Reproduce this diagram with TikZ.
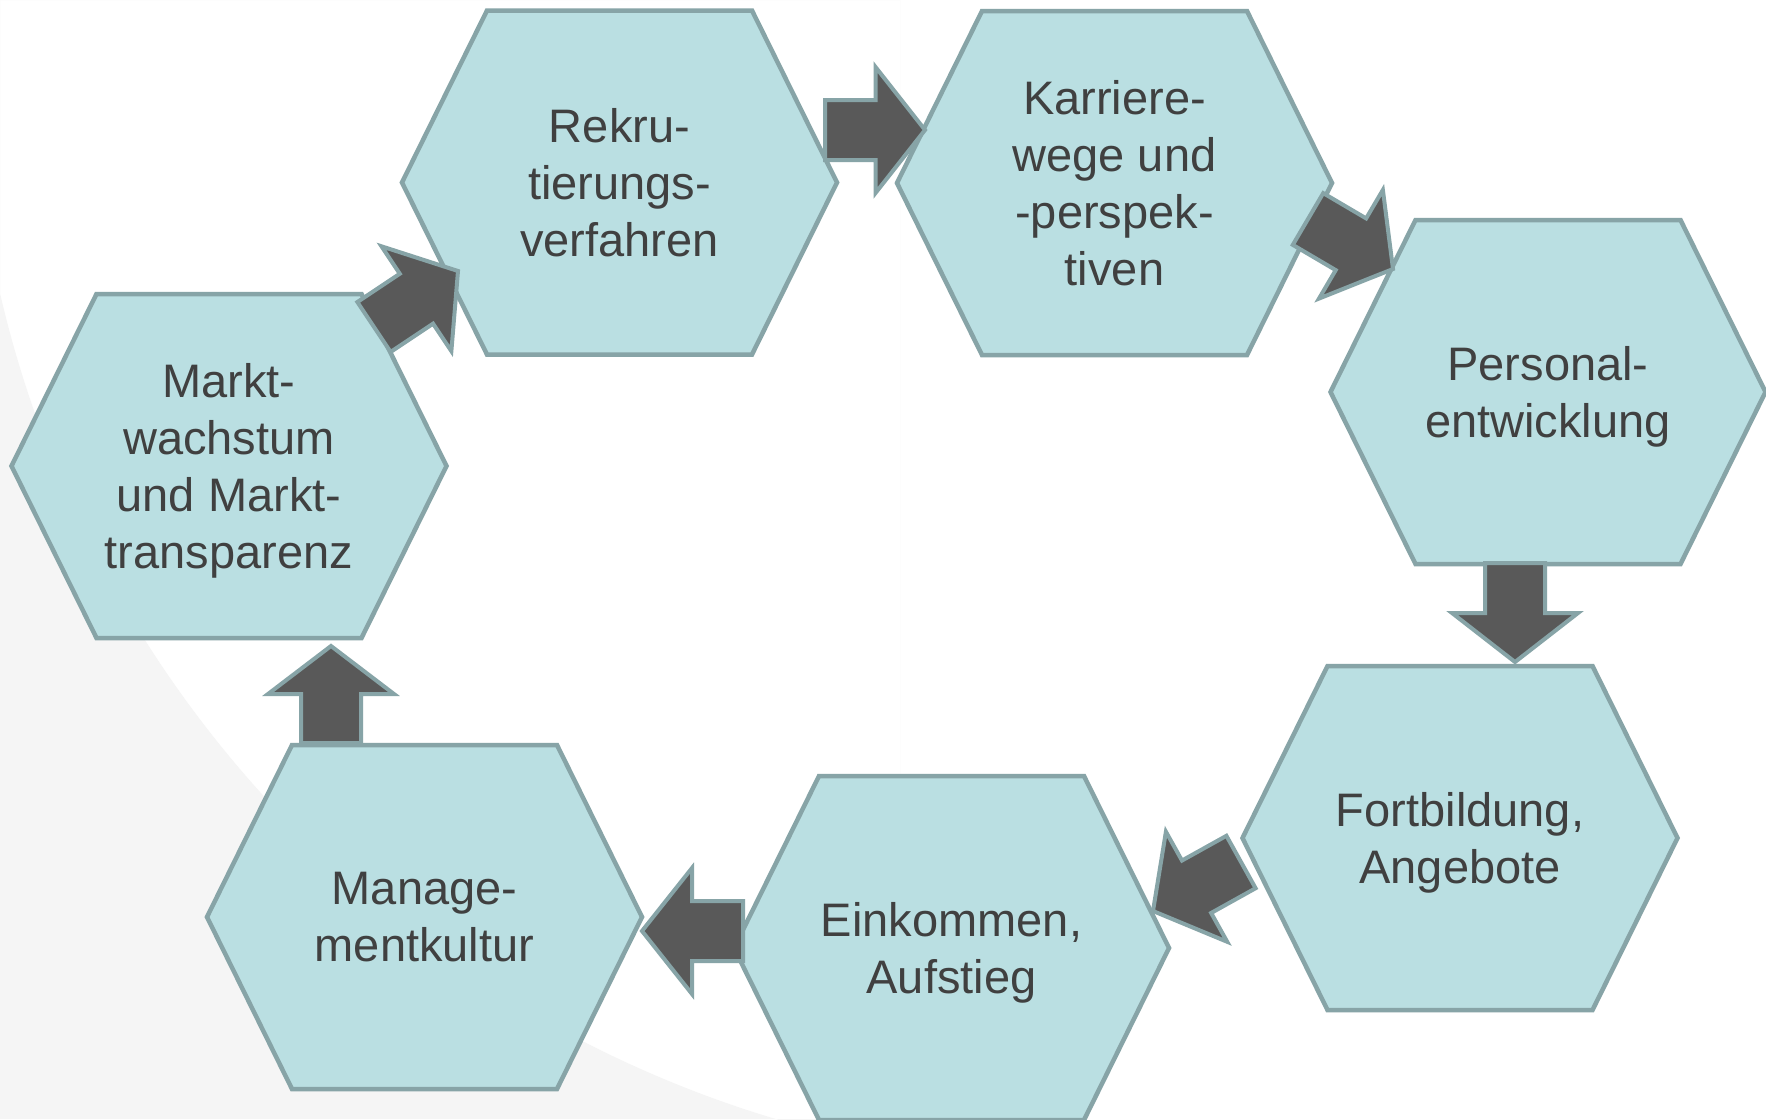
\documentclass[tikz,border=0pt]{standalone}
\usepackage{fontspec}
\setmainfont{Liberation Sans}
\usetikzlibrary{calc}
\definecolor{hexfill}{RGB}{186,223,226}
\definecolor{hexline}{RGB}{135,164,167}
\definecolor{arrowfill}{RGB}{89,89,89}
\definecolor{txt}{RGB}{64,64,64}
\definecolor{bggray}{RGB}{245,245,245}
\tikzset{
  hexframe/.style={rectangle, minimum width=435pt, minimum height=344pt, inner sep=0pt, outer sep=0pt},
  hexshape/.style={fill=hexfill, draw=hexline, line width=4.5pt, line join=miter},
  hextext/.style={align=center, text=txt, font=\fontsize{47}{57}\selectfont, inner sep=0pt, text depth=0pt},
  blockarr/.style={fill=arrowfill, draw=hexline, line width=4pt, line join=miter},
}
\newcommand\hexagonnode[4]{%
  \node[hexframe] (#1) at (#2,#3) {};
  \draw[hexshape] (#1.west) -- ([xshift=85pt]#1.north west) -- ([xshift=-85pt]#1.north east)
    -- (#1.east) -- ([xshift=-85pt]#1.south east) -- ([xshift=85pt]#1.south west) -- cycle;
  \node[hextext] (#1t) at (#1.center) {#4};
}
\newcommand\blockarrow[2]{%
  \coordinate (ab) at ($(#1)!0.505!(#2)$);
  \draw[blockarr] ($(#1)!30pt!90:(#2)$) -- ($(ab)!30pt!90:(#2)$) -- ($(ab)!63pt!90:(#2)$)
    -- (#2) -- ($(ab)!63pt!-90:(#2)$) -- ($(ab)!30pt!-90:(#2)$) -- ($(#1)!30pt!-90:(#2)$) -- cycle;
}
\begin{document}
\begin{tikzpicture}[x=1pt,y=-1pt]
  \fill[white] (0,0) rectangle (1766,1119);
  \useasboundingbox (0,0) rectangle (1766,1119);
  \begin{scope}
    \clip (0,0) rectangle (900,1119);
    \fill[bggray, even odd rule] (0,0) rectangle (900,1119) (1099,38) circle (1128pt);
  \end{scope}

  \hexagonnode{M}{229}{466}{Markt-\\wachstum\\und Markt-\\transparenz}
  \hexagonnode{A}{619.5}{182.5}{Rekru-\\tierungs-\\verfahren}
  \hexagonnode{K}{1114.5}{183}{Karriere-\\wege und\\-perspek-\\tiven}
  \hexagonnode{P}{1548}{392}{Personal-\\entwicklung}
  \hexagonnode{F}{1460}{838}{Fortbildung,\\Angebote}
  \hexagonnode{E}{951.5}{948}{Einkommen,\\Aufstieg}
  \hexagonnode{G}{424.5}{917}{Manage-\\mentkultur}

  \coordinate (a1t) at (374,327);  \coordinate (a1h) at (458,271);
  \coordinate (a2t) at (825,130);  \coordinate (a2h) at (925,130);
  \coordinate (a3t) at (1308,219); \coordinate (a3h) at (1393,269);
  \coordinate (a4t) at (1515,563); \coordinate (a4h) at (1515,662);
  \coordinate (a5t) at (1241,862); \coordinate (a5h) at (1153,911);
  \coordinate (a6t) at (743,931);  \coordinate (a6h) at (642,931);
  \coordinate (a7t) at (331,743);  \coordinate (a7h) at (331,646);

  \blockarrow{a1t}{a1h}
  \blockarrow{a2t}{a2h}
  \blockarrow{a3t}{a3h}
  \blockarrow{a4t}{a4h}
  \blockarrow{a5t}{a5h}
  \blockarrow{a6t}{a6h}
  \blockarrow{a7t}{a7h}
\end{tikzpicture}
\end{document}
